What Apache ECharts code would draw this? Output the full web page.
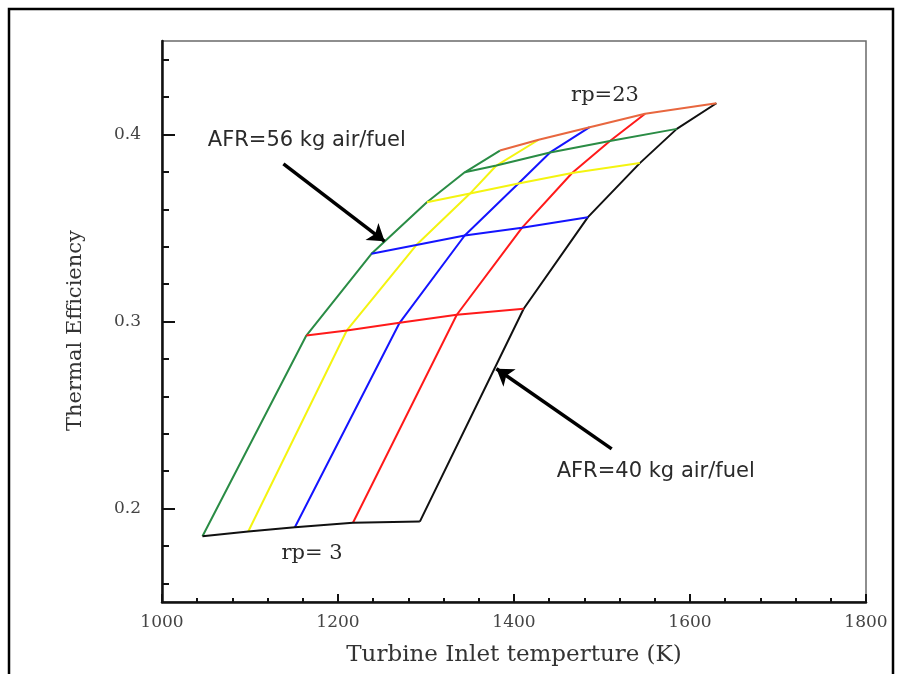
<!DOCTYPE html>
<html>
<head>
<meta charset="utf-8">
<script src="https://cdn.jsdelivr.net/npm/echarts@6/dist/echarts.min.js"></script>
<style>
html, body { margin: 0; padding: 0; background: #ffffff; }
#chart { width: 904px; height: 674px; }
</style>
</head>
<body>
<div id="chart"></div>
<script>
// ---------------- data ----------------
const afrLabels = [56, 52, 48, 44, 40];          // kg air / kg fuel
const rpLabels = [3, 7, 11, 15, 19, 23];          // pressure ratio

// Turbine inlet temperature (K) at rp = 3, 7, 11, 15, 19, 23 for each AFR
const titAFR56 = [1046, 1164, 1238, 1301, 1344, 1384];
const titAFR52 = [1098, 1210, 1289, 1350, 1380, 1428];
const titAFR48 = [1151, 1270, 1344, 1405, 1441, 1486];
const titAFR44 = [1217, 1335, 1409, 1466, 1509, 1549];
const titAFR40 = [1293, 1411, 1484, 1543, 1585, 1630];

// Thermal efficiency at rp = 3, 7, 11, 15, 19, 23 for each AFR
const effAFR56 = [0.1852, 0.2925, 0.3362, 0.3638, 0.3798, 0.3914];
const effAFR52 = [0.1877, 0.2952, 0.3409, 0.3684, 0.3834, 0.3972];
const effAFR48 = [0.1900, 0.2993, 0.3460, 0.3738, 0.3904, 0.4039];
const effAFR44 = [0.1924, 0.3036, 0.3501, 0.3794, 0.3965, 0.4111];
const effAFR40 = [0.1930, 0.3068, 0.3558, 0.3847, 0.4030, 0.4167];

// axis ticks
const xTickLabels = [1000, 1200, 1400, 1600, 1800];
const yTickLabels = [0.2, 0.3, 0.4];
const yMinorTicks = [0.16, 0.18, 0.22, 0.24, 0.26, 0.28, 0.32, 0.34, 0.36, 0.38, 0.42, 0.44];

// annotations (data coordinates)
const arrowAFR56 = [[1138, 0.3843], [1253, 0.3429]];
const arrowAFR40 = [[1511, 0.2319], [1380, 0.2747]];
const labelTexts = ['AFR=56 kg air/fuel', 'AFR=40 kg air/fuel', 'rp=23', 'rp= 3'];
const labelAnchors = [[1052, 0.3968], [1448.5, 0.2199], [1503.4, 0.4209], [1170.5, 0.1759]];

// ---------------- styles ----------------
const afrColors = ['#2a8c45', '#f4f410', '#1414ff', '#ff1a1a', '#111111'];
const rpColors = ['#111111', '#ff1a1a', '#1414ff', '#f4f410', '#2a8c45', '#e8673f'];

const titByAfr = [titAFR56, titAFR52, titAFR48, titAFR44, titAFR40];
const effByAfr = [effAFR56, effAFR52, effAFR48, effAFR44, effAFR40];

const series = [];
afrLabels.forEach((afr, i) => {
  series.push({
    type: 'line',
    name: 'AFR=' + afr,
    data: titByAfr[i].map((t, j) => [t, effByAfr[i][j]]),
    showSymbol: false,
    symbol: 'none',
    lineStyle: { color: afrColors[i], width: 2 },
    itemStyle: { color: afrColors[i] },
    z: 2,
    animation: false
  });
});
rpLabels.forEach((rp, j) => {
  series.push({
    type: 'line',
    name: 'rp=' + rp,
    data: titByAfr.map((tit, i) => [tit[j], effByAfr[i][j]]),
    showSymbol: false,
    symbol: 'none',
    lineStyle: { color: rpColors[j], width: 2 },
    itemStyle: { color: rpColors[j] },
    z: 3,
    animation: false
  });
});
series.push({
  type: 'lines',
  coordinateSystem: 'cartesian2d',
  symbol: ['none', 'arrow'],
  symbolSize: 16,
  lineStyle: { color: '#000000', width: 3.5, opacity: 1 },
  data: [{ coords: arrowAFR56 }, { coords: arrowAFR40 }],
  z: 5,
  animation: false
});

const serifFont = '"DejaVu Serif", "Liberation Serif", serif';

const option = {
  backgroundColor: '#ffffff',
  animation: false,
  grid: {
    left: 162, right: 38, top: 41, bottom: 72,
    show: true, borderColor: '#6a6a6a', borderWidth: 1.5, backgroundColor: 'transparent'
  },
  xAxis: {
    type: 'value',
    min: xTickLabels[0],
    max: xTickLabels[xTickLabels.length - 1],
    interval: 200,
    axisLine: { show: true, onZero: false, lineStyle: { color: '#111111', width: 2.5 } },
    axisTick: { show: true, inside: true, length: 8, lineStyle: { color: '#111111', width: 2 } },
    minorTick: { show: true, splitNumber: 5, length: 4, lineStyle: { color: '#111111', width: 2 } },
    splitLine: { show: false },
    axisLabel: {
      color: '#444444', fontFamily: serifFont, fontSize: 17, margin: 12,
      formatter: v => String(v)
    },
    name: 'Turbine Inlet temperture (K)',
    nameLocation: 'middle',
    nameGap: 42,
    nameTextStyle: { color: '#333333', fontFamily: serifFont, fontSize: 23 }
  },
  yAxis: [
    {
      type: 'value',
      min: 0.15,
      max: 0.45,
      axisLine: { show: true, onZero: false, lineStyle: { color: '#111111', width: 2.5 } },
      axisTick: { show: true, inside: true, length: 13, customValues: yTickLabels, lineStyle: { color: '#111111', width: 2 } },
      splitLine: { show: false },
      axisLabel: {
        color: '#444444', fontFamily: serifFont, fontSize: 17, margin: 21,
        customValues: yTickLabels,
        formatter: v => Number(v).toFixed(1)
      },
      name: 'Thermal Efficiency',
      nameLocation: 'middle',
      nameGap: 76,
      nameTextStyle: { color: '#333333', fontFamily: serifFont, fontSize: 21, padding: [0, 18, 0, 0] }
    },
    {
      type: 'value',
      min: 0.15,
      max: 0.45,
      position: 'left',
      axisLine: { show: false },
      axisTick: { show: true, inside: true, length: 7, customValues: yMinorTicks, lineStyle: { color: '#111111', width: 2 } },
      axisLabel: { show: false },
      splitLine: { show: false }
    }
  ],
  series: series
};

const chart = echarts.init(document.getElementById('chart'), null, { renderer: 'canvas' });
chart.setOption(option);

// text annotations positioned from data coordinates
const fontsFor = [
  '21px "DejaVu Sans", "Liberation Sans", sans-serif',
  '21px "DejaVu Sans", "Liberation Sans", sans-serif',
  '21px ' + serifFont,
  '21px ' + serifFont
];
const alignFor = ['left', 'left', 'center', 'center'];
const graphics = [{
  type: 'rect',
  silent: true,
  shape: { x: 9, y: 9, width: 884, height: 690 },
  style: { fill: 'none', stroke: '#000000', lineWidth: 2.5 },
  z: 10
}];
labelTexts.forEach((t, k) => {
  const p = chart.convertToPixel({ gridIndex: 0 }, labelAnchors[k]);
  graphics.push({
    type: 'text',
    silent: true,
    x: p[0],
    y: p[1],
    z: 10,
    style: {
      text: t,
      font: fontsFor[k],
      fill: '#2a2a2a',
      align: alignFor[k],
      verticalAlign: 'middle'
    }
  });
});
chart.setOption({ graphic: graphics });
</script>
</body>
</html>
